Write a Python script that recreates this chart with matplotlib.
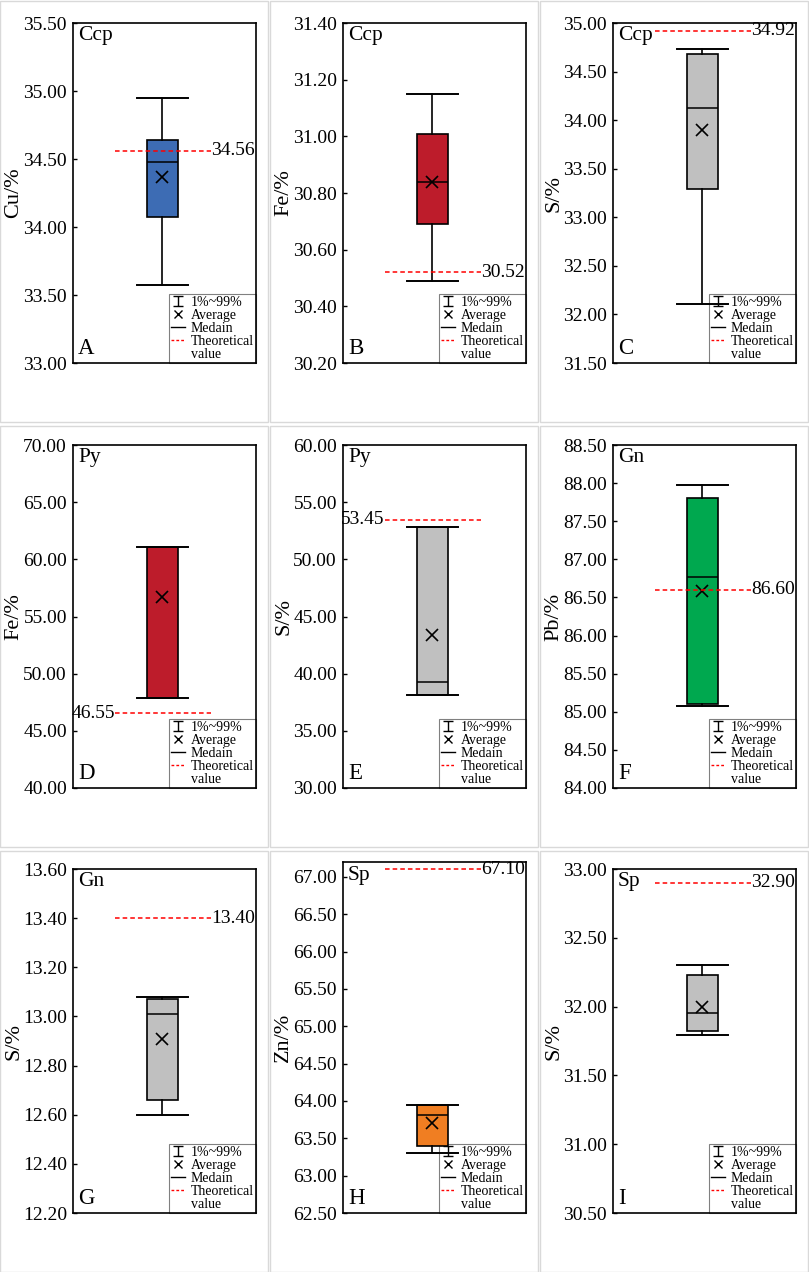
import numpy as np
import matplotlib
matplotlib.use("Agg")
import matplotlib.pyplot as plt
from matplotlib.lines import Line2D
from matplotlib.path import Path
from matplotlib.patches import Rectangle

plt.rcParams["font.family"] = ["Liberation Serif", "DejaVu Serif"]

# ── Data ─────────────────────────────────────────────────────────────────────
letters   = ["A", "B", "C", "D", "E", "F", "G", "H", "I"]
minerals  = ["Ccp", "Ccp", "Ccp", "Py", "Py", "Gn", "Gn", "Sp", "Sp"]
ylabels   = ["Cu/%", "Fe/%", "S/%", "Fe/%", "S/%", "Pb/%", "S/%", "Zn/%", "S/%"]
whis_hi   = [34.95, 31.15, 34.73, 61.10, 52.80, 87.98, 13.08, 63.95, 32.30]
q3        = [34.64, 31.01, 34.68, 61.05, 52.80, 87.81, 13.07, 63.94, 32.23]
median    = [34.48, 30.84, 34.13, 47.90, 39.30, 86.77, 13.01, 63.81, 31.95]
mean      = [34.37, 30.84, 33.90, 56.70, 43.40, 86.58, 12.91, 63.71, 32.00]
q1        = [34.07, 30.69, 33.29, 47.90, 38.10, 85.10, 12.66, 63.40, 31.82]
whis_lo   = [33.57, 30.49, 32.11, 47.85, 38.10, 85.08, 12.60, 63.31, 31.79]
theory    = [34.56, 30.52, 34.92, 46.55, 53.45, 86.60, 13.40, 67.10, 32.90]
y_min     = [33.0, 30.2, 31.5, 40.0, 30.0, 84.0, 12.2, 62.5, 30.5]
y_max     = [35.5, 31.4, 35.0, 70.0, 60.0, 88.5, 13.6, 67.2, 33.0]
y_step    = [0.5, 0.2, 0.5, 5.0, 5.0, 0.5, 0.2, 0.5, 0.5]
fills     = ["#3d6cb4", "#bd1c2b", "#c0c0c0", "#bd1c2b", "#c0c0c0",
             "#00a84f", "#c0c0c0", "#f07e22", "#c0c0c0"]
label_left = [False, False, False, True, True, False, False, False, False]

# ── Layout (pixels) ──────────────────────────────────────────────────────────
W, H = 809, 1272
col_x = [0, 270, 540]
row_y = [0, 425, 850]
ax_top = [23, 445, 869]
ax_bot = [363, 788, 1213]

fig = plt.figure(figsize=(W / 100, H / 100), dpi=100)

# light grey frames around each cell
for r in range(3):
    for c in range(3):
        fig.add_artist(Rectangle((col_x[c] / W, 1 - (row_y[r] + 422) / H),
                                 268 / W, 421 / H, transform=fig.transFigure,
                                 fill=False, ec="#d9d9d9", lw=1.0))

ibeam = Path([(-1, 1), (1, 1), (0, 1), (0, -1), (-1, -1), (1, -1)],
             [Path.MOVETO, Path.LINETO, Path.MOVETO, Path.LINETO,
              Path.MOVETO, Path.LINETO])

for i in range(9):
    r, c = divmod(i, 3)
    top = ax_top[r] - (7 if letters[i] == "H" else 0)
    left = col_x[c] + 72.5
    ax = fig.add_axes([left / W, 1 - ax_bot[r] / H, 183.5 / W, (ax_bot[r] - top) / H])

    stats = [dict(med=median[i], q1=q1[i], q3=q3[i], whislo=whis_lo[i],
                  whishi=whis_hi[i], mean=mean[i], fliers=[])]
    ax.bxp(stats, positions=[0.49], widths=[0.17], capwidths=[0.28],
           patch_artist=True, showmeans=True, showfliers=False,
           boxprops=dict(facecolor=fills[i], edgecolor="k", lw=1.2),
           medianprops=dict(color="k", lw=1.1),
           whiskerprops=dict(color="k", lw=1.2),
           capprops=dict(color="k", lw=1.4),
           meanprops=dict(marker="x", markeredgecolor="k", markersize=9,
                          markeredgewidth=1.2))

    ax.hlines(theory[i], 0.23, 0.755, colors="#ff0000", linestyles=(0, (3, 2)),
              lw=1.1, zorder=4)
    if label_left[i]:
        ax.text(0.23, theory[i], f"{theory[i]:.2f}", ha="right", va="center",
                fontsize=14)
    else:
        ax.text(0.755, theory[i], f"{theory[i]:.2f}", ha="left", va="center",
                fontsize=14)

    ax.set_xlim(0, 1)
    ax.set_ylim(y_min[i], y_max[i])
    ticks = np.arange(y_min[i], y_max[i] + 1e-6, y_step[i])
    ax.set_yticks(ticks)
    ax.set_yticklabels([f"{t:.2f}" for t in ticks])
    ax.set_xticks([])
    ax.tick_params(axis="y", direction="in", length=3, width=1,
                   labelsize=14, pad=4)
    for s in ax.spines.values():
        s.set_linewidth(1.2)

    ax.text(-0.32, 0.5, ylabels[i], rotation=90, ha="center", va="center",
            fontsize=16, transform=ax.transAxes)
    ax.text(0.03, 0.99, minerals[i], ha="left", va="top", fontsize=15.5,
            transform=ax.transAxes)
    ax.text(0.03, 0.012, letters[i], ha="left", va="bottom", fontsize=16.5,
            transform=ax.transAxes)

    handles = [
        Line2D([], [], marker=ibeam, ls="none", color="k", markersize=7, mew=1.0),
        Line2D([], [], marker="x", ls="none", color="k", markersize=6, mew=1.0),
        Line2D([], [], color="k", lw=1.0),
        Line2D([], [], color="#ff0000", lw=1.0, ls=(0, (2, 1.5))),
        Line2D([], [], alpha=0),
    ]
    leg = ax.legend(handles, ["1%~99%", "Average", "Medain", "Theoretical", "value"],
                    loc="lower right", bbox_to_anchor=(1, 0), borderaxespad=0,
                    fontsize=10, handlelength=1.0, handletextpad=0.45,
                    labelspacing=0.0, borderpad=0.15, fancybox=False,
                    framealpha=1, facecolor="none", edgecolor="#808080")
    leg.get_frame().set_linewidth(0.8)
    leg.set_zorder(1)

fig.savefig("out.png", dpi=100)
